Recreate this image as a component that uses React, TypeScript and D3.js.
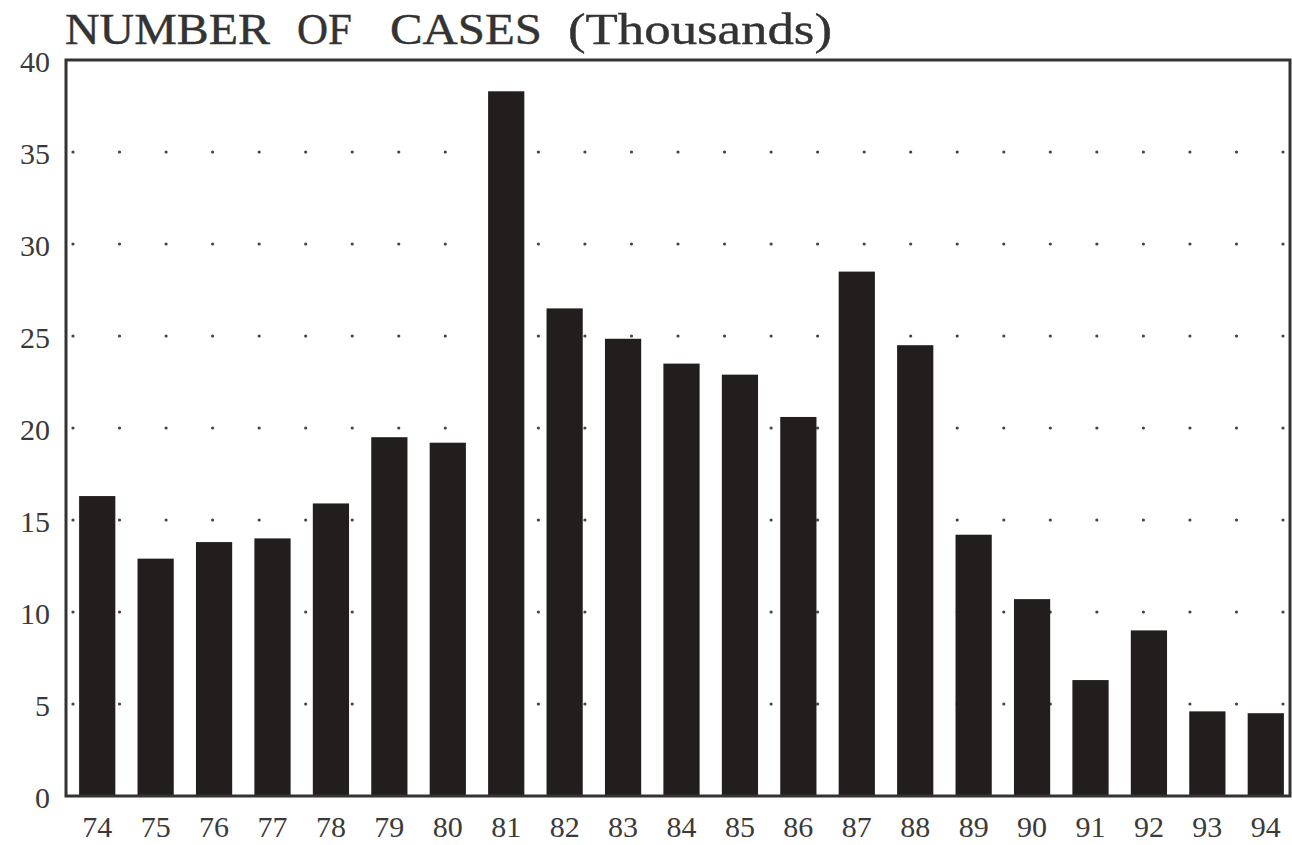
import * as d3 from "d3";

// cases per year, in thousands
const years = ["74", "75", "76", "77", "78", "79", "80", "81", "82", "83", "84",
  "85", "86", "87", "88", "89", "90", "91", "92", "93", "94"];
const cases = [16.3, 12.9, 13.8, 14.0, 15.9, 19.5, 19.2, 38.3, 26.5, 24.85, 23.5,
  22.9, 20.6, 28.5, 24.5, 14.2, 10.7, 6.3, 9.0, 4.6, 4.5];
const yTicks = [0, 5, 10, 15, 20, 25, 30, 35, 40];
const dotRows = [5, 10, 15, 20, 25, 30, 35];
const dotCols = d3.range(27);
const titleWords = ["NUMBER", "OF", "CASES", "(Thousands)"];

const W = 1292;
const H = 845;
const frame = { left: 66, right: 1290, top: 60, bottom: 796 };
const font = "'Liberation Serif', 'Times New Roman', serif";

export default function App() {
  const x = d3
    .scaleBand<string>()
    .domain(years)
    .range([68, 1295])
    .paddingInner(0.38)
    .paddingOuter(0.19);

  const y = d3.scaleLinear().domain([0, 40]).range([frame.bottom, frame.top]);

  // dotted grid runs across the frame in even steps
  const dotX = d3.scaleLinear().domain([0, 26]).range([73, 1283]);

  // the print uses a wide book face; stretch each word to its printed width
  const titleX = [65, 297, 390, 568];
  const titleLen = [205, 55, 152, 264];

  return (
    <svg
      width={W}
      height={H}
      style={{ position: "absolute", left: 0, top: 0, background: "#fff" }}
      fontFamily={font}
    >
      <g fontSize={44} fill="#333" stroke="#333" strokeWidth={0.4}>
        {titleWords.map((w, i) => (
          <text
            key={w}
            x={titleX[i]}
            y={44}
            textLength={titleLen[i]}
            lengthAdjust="spacingAndGlyphs"
          >
            {w}
          </text>
        ))}
      </g>

      {/* dotted gridlines */}
      <g fill="#444">
        {dotRows.map((r) =>
          dotCols.map((c) => (
            <circle key={`${r}-${c}`} cx={dotX(c)} cy={y(r)} r={1.6} />
          ))
        )}
      </g>

      {/* bars */}
      <g fill="#221e1e">
        {years.map((yr, i) => (
          <rect
            key={yr}
            x={x(yr)}
            y={y(cases[i])}
            width={x.bandwidth()}
            height={y(0) - y(cases[i])}
          />
        ))}
      </g>

      {/* frame */}
      <rect
        x={frame.left}
        y={frame.top}
        width={frame.right - frame.left}
        height={frame.bottom - frame.top}
        fill="none"
        stroke="#333"
        strokeWidth={3}
      />

      {/* y labels */}
      <g fontSize={30} fill="#3a3a3a" textAnchor="end">
        {yTicks.map((t) => (
          <text key={t} x={50} y={y(t) + 5} dominantBaseline="middle">
            {t}
          </text>
        ))}
      </g>

      {/* x labels */}
      <g fontSize={30} fill="#3a3a3a" textAnchor="middle">
        {years.map((yr) => (
          <text key={yr} x={(x(yr) ?? 0) + x.bandwidth() / 2} y={837}>
            {yr}
          </text>
        ))}
      </g>
    </svg>
  );
}
